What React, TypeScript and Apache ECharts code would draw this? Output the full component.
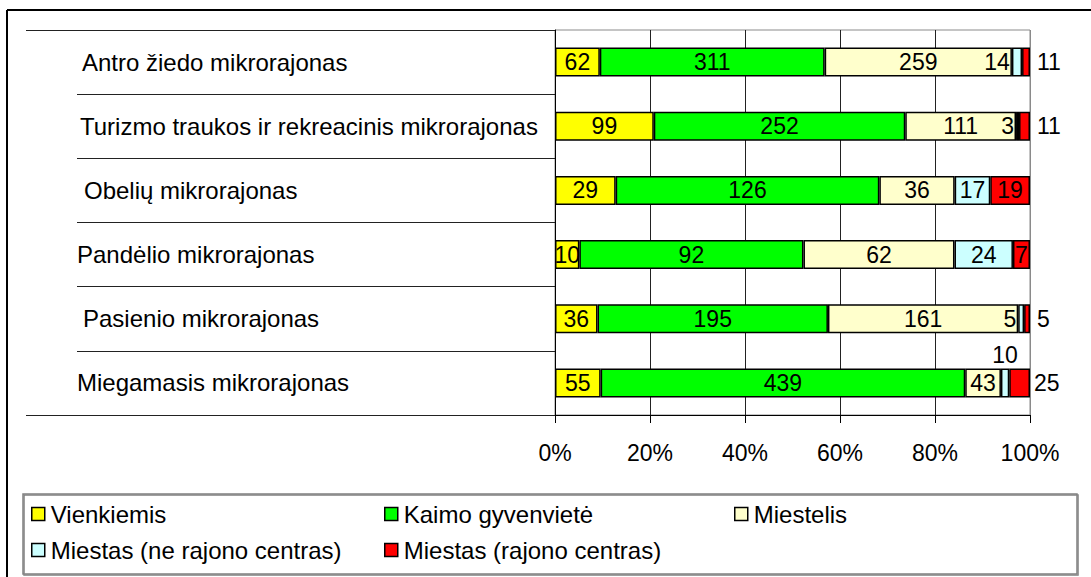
import React, { useEffect, useRef } from "react";
import * as echarts from "echarts";

const categories = [
  "Antro žiedo mikrorajonas",
  "Turizmo traukos ir rekreacinis mikrorajonas",
  "Obelių mikrorajonas",
  "Pandėlio mikrorajonas",
  "Pasienio mikrorajonas",
  "Miegamasis mikrorajonas",
];

const seriesNames = [
  "Vienkiemis",
  "Kaimo gyvenvietė",
  "Miestelis",
  "Miestas (ne rajono centras)",
  "Miestas (rajono centras)",
];

const vienkiemis = [62, 99, 29, 10, 36, 55];
const kaimoGyvenviete = [311, 252, 126, 92, 195, 439];
const miestelis = [259, 111, 36, 62, 161, 43];
const miestasNeCentras = [14, 3, 17, 24, 5, 10];
const miestasCentras = [11, 11, 19, 7, 5, 25];

const xTicks = [0, 20, 40, 60, 80, 100];

const colors = ["#FFFF00", "#00FF00", "#FFFFCC", "#CCFFFF", "#FF0000"];

// label placement overrides (style only): series index -> category index -> label opts
const labelOverrides: Record<number, Record<number, any>> = {
  3: {
    0: { position: "left", distance: 2 },
    1: { position: "left", distance: 2 },
    4: { position: "left", distance: 2 },
    5: { position: "top", distance: 2 },
  },
  4: {
    0: { position: "right", distance: 7 },
    1: { position: "right", distance: 7 },
    4: { position: "right", distance: 7 },
    5: { position: "right", distance: 4 },
  },
};

// category label left indents (style only)
const catIndent = [5, 3, 7, 0, 6, 0];

// legend layout (style only): [left, top]
const legendPos = [
  [31, 502],
  [384, 502],
  [734, 502],
  [31, 538],
  [384, 538],
];

const FONT = "'Liberation Sans', Arial, sans-serif";
const FS = 23;
const FS_CAT = 24;

export default function App() {
  const ref = useRef<HTMLDivElement>(null);

  useEffect(() => {
    if (!ref.current) return;
    const chart = echarts.init(ref.current, null, { renderer: "svg" });
    const raw = [vienkiemis, kaimoGyvenviete, miestelis, miestasNeCentras, miestasCentras];
    const totals = categories.map((_, i) => raw.reduce((s, arr) => s + arr[i], 0));

    const gridLeft = 555;
    const gridTop = 30;
    const gridRight = 1091 - 1030;
    const gridBottom = 577 - 415;

    const series = raw.map((arr, si) => ({
      name: seriesNames[si],
      type: "bar",
      stack: "total",
      barWidth: 29,
      itemStyle: { color: colors[si], borderColor: "#000", borderWidth: 1.5 },
      label: {
        show: true,
        position: "inside",
        color: "#000",
        fontSize: FS,
        fontFamily: FONT,
        formatter: (p: any) => String(arr[p.dataIndex]),
      },
      emphasis: { disabled: true },
      data: arr.map((v, ci) => {
        const item: any = { value: (v / totals[ci]) * 100 };
        const ov = labelOverrides[si] && labelOverrides[si][ci];
        if (ov) item.label = ov;
        return item;
      }),
    }));

    const rich: any = {};
    catIndent.forEach((pad, i) => {
      rich["c" + i] = {
        fontSize: FS_CAT,
        fontFamily: FONT,
        color: "#000",
        padding: [0, 0, 0, pad],
      };
    });

    const option: any = {
      animation: false,
      backgroundColor: "#fff",
      textStyle: { fontFamily: FONT },
      grid: {
        left: gridLeft,
        top: gridTop,
        right: gridRight,
        bottom: gridBottom,
        show: true,
        borderColor: "#8a8a8a",
        borderWidth: 1,
      },
      xAxis: {
        type: "value",
        min: xTicks[0],
        max: xTicks[xTicks.length - 1],
        interval: 20,
        axisLine: { show: true, lineStyle: { color: "#000", width: 1 } },
        axisTick: { show: true, length: 8, lineStyle: { color: "#000" } },
        axisLabel: {
          color: "#000",
          fontSize: FS,
          fontFamily: FONT,
          margin: 26,
          formatter: "{value}%",
        },
        splitLine: {
          show: true,
          lineStyle: { color: ["#000", "#222", "#222", "#222", "#222", "#8a8a8a"], width: 1 },
        },
      },
      yAxis: {
        type: "category",
        inverse: true,
        data: categories,
        axisLine: { show: true, lineStyle: { color: "#000", width: 1 } },
        axisTick: { show: true, length: 478, lineStyle: { color: "#222", width: 1 } },
        axisLabel: {
          color: "#000",
          fontSize: FS_CAT,
          fontFamily: FONT,
          align: "left",
          margin: 478,
          formatter: (v: string, i: number) => `{c${i}|${v}}`,
          rich,
        },
      },
      legend: seriesNames.map((name, i) => ({
        data: [name],
        left: legendPos[i][0],
        top: legendPos[i][1],
        icon: "rect",
        itemWidth: 13,
        itemHeight: 13,
        selectedMode: false,
        padding: 0,
        textStyle: { color: "#000", fontSize: FS_CAT, fontFamily: FONT, padding: [0, 0, 0, 1] },
        itemStyle: { borderColor: "#000", borderWidth: 1.5 },
      })),
      graphic: [
        { type: "line", shape: { x1: 7, y1: 10, x2: 1091, y2: 10 }, style: { stroke: "#000", lineWidth: 2 } },
        { type: "line", shape: { x1: 7, y1: 10, x2: 7, y2: 577 }, style: { stroke: "#000", lineWidth: 2 } },
        { type: "line", shape: { x1: 26, y1: gridTop + 0.5, x2: 80, y2: gridTop + 0.5 }, style: { stroke: "#222", lineWidth: 1 } },
        { type: "line", shape: { x1: 26, y1: 577 - gridBottom + 0.5, x2: 80, y2: 577 - gridBottom + 0.5 }, style: { stroke: "#222", lineWidth: 1 } },
        {
          type: "rect",
          shape: { x: 23, y: 494, width: 1054, height: 80 },
          style: { fill: "none", stroke: "#808080", lineWidth: 1.5, shadowColor: "rgba(0,0,0,0.5)", shadowOffsetX: 1, shadowOffsetY: 1 },
          z: -1,
        },
      ],
      series,
    };
    chart.setOption(option);
    return () => chart.dispose();
  }, []);

  return (
    <div
      ref={ref}
      style={{ position: "fixed", left: 0, top: 0, width: 1091, height: 577, background: "#fff" }}
    />
  );
}
